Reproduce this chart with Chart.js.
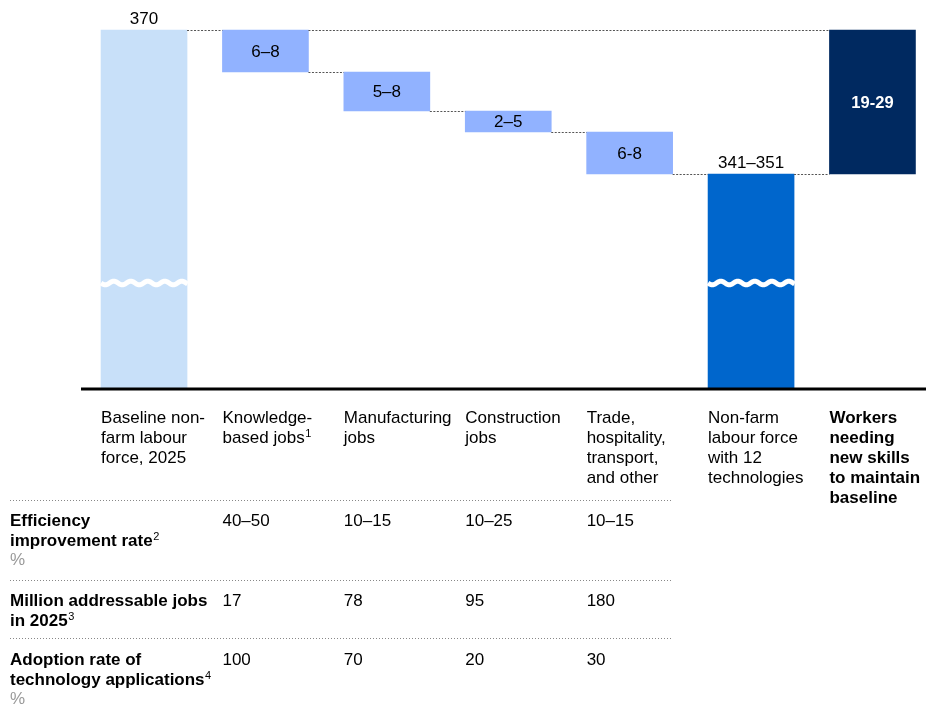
<!DOCTYPE html>
<html><head><meta charset="utf-8">
<script src="https://cdn.jsdelivr.net/npm/chart.js@4/dist/chart.umd.min.js"></script>
<style>html,body{margin:0;padding:0;background:#fff;overflow:hidden}#wrap{width:926px;height:706px;position:relative}</style>
</head><body>
<div id="wrap"><canvas id="c" width="926" height="706"></canvas></div>
<script>
// ---- data ----
const categories = [
  ["Baseline non-", "farm labour", "force, 2025"],
  ["Knowledge-", "based jobs^1"],
  ["Manufacturing", "jobs"],
  ["Construction", "jobs"],
  ["Trade,", "hospitality,", "transport,", "and other"],
  ["Non-farm", "labour force", "with 12", "technologies"],
  ["Workers", "needing", "new skills", "to maintain", "baseline"]
];
const baselineJobs = 370;
const baselineLabel = "370";
const reductionLow = [6, 5, 2, 6];
const reductionHigh = [8, 8, 5, 8];
const reductionLabels = ["6–8", "5–8", "2–5", "6-8"];
const resultLow = 341, resultHigh = 351;
const resultLabel = "341–351";
const reskillLow = 19, reskillHigh = 29;
const reskillLabel = "19-29";

const rowTitles = [
  [["Efficiency", "b"], ["improvement rate^2", "b"], ["%", "g"]],
  [["Million addressable jobs", "b"], ["in 2025^3", "b"]],
  [["Adoption rate of", "b"], ["technology applications^4", "b"], ["%", "g"]]
];
const efficiencyRate = ["40–50", "10–15", "10–25", "10–15"];
const addressableJobs = ["17", "78", "95", "180"];
const adoptionRate = ["100", "70", "20", "30"];
const tableRows = [efficiencyRate, addressableJobs, adoptionRate];

// ---- build waterfall ----
const mids = reductionLow.map((l, i) => (l + reductionHigh[i]) / 2);
const bars = [];
const levels = [];
bars.push([0, baselineJobs]); levels.push(baselineJobs);
let lvl = baselineJobs;
mids.forEach(m => { bars.push([lvl - m, lvl]); lvl -= m; levels.push(lvl); });
const resultMid = (resultLow + resultHigh) / 2;
bars.push([0, resultMid]); levels.push(resultMid);
const reskillMid = (reskillLow + reskillHigh) / 2;
bars.push([resultMid, resultMid + reskillMid]);
const barLabels = [baselineLabel, ...reductionLabels, resultLabel, reskillLabel];
const barColors = ['#C8E0F9', '#91B2FF', '#91B2FF', '#91B2FF', '#91B2FF', '#0066CC', '#002960'];

const FONT = '"Liberation Sans", Arial, sans-serif';

function drawRich(ctx, str, x, y, bold, color, size) {
  const parts = str.split('^');
  ctx.fillStyle = color;
  ctx.textAlign = 'left';
  ctx.textBaseline = 'alphabetic';
  ctx.font = (bold ? 'bold ' : '') + size + 'px ' + FONT;
  ctx.fillText(parts[0], x, y);
  if (parts[1]) {
    const w = ctx.measureText(parts[0]).width;
    ctx.font = '11px ' + FONT;
    ctx.fillText(parts[1], x + w + 0.5, y - 6);
  }
}

const deco = {
  id: 'deco',
  afterDatasetsDraw(chart) {
    const ctx = chart.ctx;
    const ys = chart.scales.y;
    const area = chart.chartArea;
    const els = chart.getDatasetMeta(0).data;
    const L = i => els[i].x - els[i].width / 2;
    const R = i => els[i].x + els[i].width / 2;
    ctx.save();
    // axis break waves
    [0, 5].forEach(i => {
      const yc = 283;
      ctx.beginPath();
      for (let x = L(i); x <= R(i) + 0.5; x += 0.5) {
        const y = yc + 1.8 * Math.sin((x - L(i)) / 17 * Math.PI * 2);
        if (x === L(i)) ctx.moveTo(x, y); else ctx.lineTo(x, y);
      }
      ctx.strokeStyle = '#fff';
      ctx.lineWidth = 5;
      ctx.stroke();
    });
    // connectors
    ctx.strokeStyle = '#555';
    ctx.lineWidth = 1;
    ctx.setLineDash([2, 1.5]);
    const seg = (x1, x2, v) => {
      const y = Math.round(ys.getPixelForValue(v)) + 0.5;
      ctx.beginPath(); ctx.moveTo(x1, y); ctx.lineTo(x2, y); ctx.stroke();
    };
    for (let i = 0; i < 6; i++) seg(R(i), L(i + 1), levels[i]);
    seg(R(1), L(6), baselineJobs);
    ctx.setLineDash([]);
    // axis line
    ctx.strokeStyle = '#000';
    ctx.lineWidth = 3;
    ctx.beginPath(); ctx.moveTo(area.left - 1, area.bottom + 1); ctx.lineTo(area.right, area.bottom + 1); ctx.stroke();
    // bar labels
    ctx.textAlign = 'center';
    ctx.textBaseline = 'alphabetic';
    els.forEach((el, i) => {
      const top = ys.getPixelForValue(bars[i][1]);
      const bot = ys.getPixelForValue(bars[i][0]);
      if (i === 0 || i === 5) {
        ctx.font = '17px ' + FONT; ctx.fillStyle = '#000';
        ctx.fillText(barLabels[i], el.x, top - 6);
      } else if (i === 6) {
        ctx.font = 'bold 16.5px ' + FONT; ctx.fillStyle = '#fff';
        ctx.textBaseline = 'middle';
        ctx.fillText(barLabels[i], el.x, (top + bot) / 2 + 1);
        ctx.textBaseline = 'alphabetic';
      } else {
        ctx.font = '17px ' + FONT; ctx.fillStyle = '#000';
        ctx.textBaseline = 'middle';
        ctx.fillText(barLabels[i], el.x, (top + bot) / 2 + 1);
        ctx.textBaseline = 'alphabetic';
      }
    });
    ctx.restore();
  },
  afterDraw(chart) {
    const ctx = chart.ctx;
    const els = chart.getDatasetMeta(0).data;
    const L = i => els[i].x - els[i].width / 2;
    ctx.save();
    // category labels
    categories.forEach((lines, i) => {
      lines.forEach((s, k) => drawRich(ctx, s, L(i), 423 + k * 20, i === 6, '#000', 17));
    });
    // table rule lines
    ctx.strokeStyle = '#888';
    ctx.lineWidth = 1;
    ctx.setLineDash([1, 2]);
    const rightEdge = els[4].x + els[4].width / 2;
    [500, 580, 638].forEach(y => {
      ctx.beginPath(); ctx.moveTo(10, y + 0.5); ctx.lineTo(rightEdge, y + 0.5); ctx.stroke();
    });
    ctx.setLineDash([]);
    // table rows
    const rowStart = [526, 606, 665];
    rowTitles.forEach((lines, r) => {
      lines.forEach((ln, k) => {
        const grey = ln[1] === 'g';
        drawRich(ctx, ln[0], 10, rowStart[r] + k * 19.5, !grey, grey ? '#999' : '#000', 17);
      });
      tableRows[r].forEach((v, j) => drawRich(ctx, v, L(j + 1), rowStart[r], false, '#000', 17));
    });
    ctx.restore();
  }
};

new Chart(document.getElementById('c'), {
  type: 'bar',
  data: {
    datasets: [{
      data: bars.map((b, i) => ({ x: i, y: b })),
      backgroundColor: barColors,
      borderWidth: 0,
      barThickness: 86
    }]
  },
  options: {
    responsive: false,
    animation: false,
    events: [],
    layout: { padding: { left: 82, right: 0, top: 0, bottom: 318 } },
    plugins: { legend: { display: false }, tooltip: { enabled: false } },
    scales: {
      x: { type: 'linear', display: false, min: -0.511, max: 6.441, offset: false },
      y: { display: false, min: 310.33, max: 375 }
    }
  },
  plugins: [deco]
});
</script>
</body></html>
